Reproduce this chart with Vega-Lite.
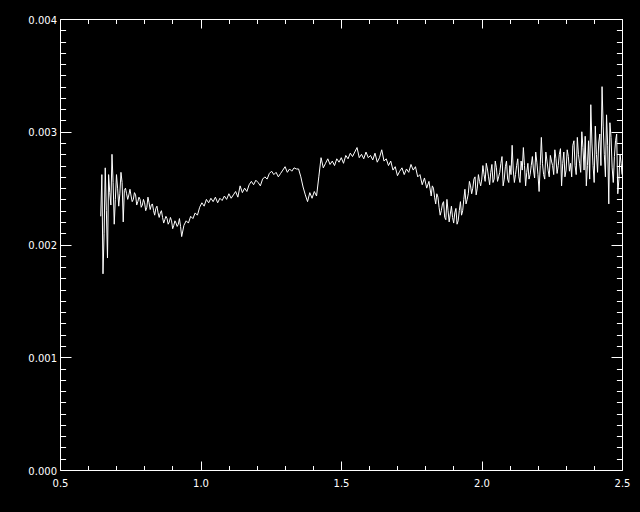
{
"$schema": "https://vega.github.io/schema/vega-lite/v6.json",
"width": 562, "height": 451,
"autosize": {"type": "none"},
"padding": {"left": 60, "top": 19, "right": 18, "bottom": 42},
"background": "black",
"config": {
  "view": {"stroke": null},
  "axis": {"grid": false, "title": null, "domainColor": "white", "tickColor": "white", "labelColor": "white", "labelFont": "DejaVu Sans", "labelFontSize": 10, "labelOverlap": false, "labelFlush": false, "domainWidth": 1, "tickWidth": 1}
},
"data": {"values": [
{"x":0.645,"y":0.00225},{"x":0.653,"y":0.00174},{"x":0.661,"y":0.00268},{"x":0.669,"y":0.00188},{"x":0.677,"y":0.00246},{"x":0.685,"y":0.00280},{"x":0.693,"y":0.00218},{"x":0.701,"y":0.00262},{"x":0.709,"y":0.00234},{"x":0.717,"y":0.00264},{"x":0.725,"y":0.00220},{"x":0.733,"y":0.00250},{"x":0.741,"y":0.00240},{"x":0.749,"y":0.00249},{"x":0.757,"y":0.00238},{"x":0.765,"y":0.00246},{"x":0.773,"y":0.00235},{"x":0.781,"y":0.00242},{"x":0.789,"y":0.00233},{"x":0.797,"y":0.00240},{"x":0.805,"y":0.00230},{"x":0.813,"y":0.00242},{"x":0.821,"y":0.00231},{"x":0.829,"y":0.00236},{"x":0.837,"y":0.00226},{"x":0.845,"y":0.00234},{"x":0.853,"y":0.00224},{"x":0.861,"y":0.00230},{"x":0.869,"y":0.00219},{"x":0.877,"y":0.00225},{"x":0.885,"y":0.00218},{"x":0.893,"y":0.00224},{"x":0.901,"y":0.00214},{"x":0.909,"y":0.00221},{"x":0.917,"y":0.00216},{"x":0.925,"y":0.00223},{"x":0.933,"y":0.00207},{"x":0.941,"y":0.00217},{"x":0.949,"y":0.00221},{"x":0.957,"y":0.00219},{"x":0.965,"y":0.00225},{"x":0.973,"y":0.00223},{"x":0.981,"y":0.00228},{"x":0.989,"y":0.00226},{"x":0.997,"y":0.00233},
{"x":1.005,"y":0.00237},{"x":1.013,"y":0.00234},{"x":1.021,"y":0.00240},{"x":1.029,"y":0.00237},{"x":1.037,"y":0.00241},{"x":1.045,"y":0.00238},{"x":1.053,"y":0.00242},{"x":1.061,"y":0.00237},{"x":1.069,"y":0.00241},{"x":1.077,"y":0.00239},{"x":1.085,"y":0.00243},{"x":1.093,"y":0.00240},{"x":1.101,"y":0.00245},{"x":1.109,"y":0.00241},{"x":1.117,"y":0.00244},{"x":1.125,"y":0.00247},{"x":1.133,"y":0.00242},{"x":1.141,"y":0.00252},{"x":1.149,"y":0.00246},{"x":1.157,"y":0.00250},{"x":1.165,"y":0.00247},{"x":1.173,"y":0.00253},{"x":1.181,"y":0.00256},{"x":1.189,"y":0.00253},{"x":1.197,"y":0.00257},{"x":1.205,"y":0.00255},{"x":1.213,"y":0.00252},{"x":1.221,"y":0.00258},{"x":1.229,"y":0.00260},{"x":1.237,"y":0.00258},{"x":1.245,"y":0.00263},{"x":1.253,"y":0.00265},{"x":1.261,"y":0.00262},{"x":1.269,"y":0.00264},{"x":1.277,"y":0.00260},{"x":1.285,"y":0.00263},{"x":1.293,"y":0.00266},{"x":1.301,"y":0.00269},{"x":1.309,"y":0.00264},{"x":1.317,"y":0.00267},{"x":1.325,"y":0.00265},{"x":1.333,"y":0.00268},{"x":1.341,"y":0.00267},{"x":1.349,"y":0.00267},{"x":1.357,"y":0.00260},{"x":1.365,"y":0.00251},{"x":1.373,"y":0.00244},{"x":1.381,"y":0.00238},{"x":1.389,"y":0.00246},{"x":1.397,"y":0.00241},{"x":1.405,"y":0.00247},{"x":1.413,"y":0.00243},{"x":1.421,"y":0.00260},{"x":1.429,"y":0.00277},{"x":1.437,"y":0.00268},{"x":1.445,"y":0.00272},{"x":1.453,"y":0.00276},{"x":1.461,"y":0.00271},{"x":1.469,"y":0.00274},{"x":1.477,"y":0.00270},{"x":1.485,"y":0.00276},{"x":1.493,"y":0.00273},
{"x":1.501,"y":0.00277},{"x":1.509,"y":0.00272},{"x":1.517,"y":0.00279},{"x":1.525,"y":0.00276},{"x":1.533,"y":0.00281},{"x":1.541,"y":0.00278},{"x":1.549,"y":0.00282},{"x":1.557,"y":0.00286},{"x":1.565,"y":0.00277},{"x":1.573,"y":0.00280},{"x":1.581,"y":0.00276},{"x":1.589,"y":0.00282},{"x":1.597,"y":0.00277},{"x":1.605,"y":0.00279},{"x":1.613,"y":0.00275},{"x":1.621,"y":0.00281},{"x":1.629,"y":0.00273},{"x":1.637,"y":0.00277},{"x":1.645,"y":0.00284},{"x":1.653,"y":0.00274},{"x":1.661,"y":0.00276},{"x":1.669,"y":0.00270},{"x":1.677,"y":0.00274},{"x":1.685,"y":0.00266},{"x":1.693,"y":0.00269},{"x":1.701,"y":0.00261},{"x":1.709,"y":0.00265},{"x":1.717,"y":0.00268},{"x":1.725,"y":0.00262},{"x":1.733,"y":0.00267},{"x":1.741,"y":0.00264},{"x":1.749,"y":0.00271},{"x":1.757,"y":0.00266},{"x":1.765,"y":0.00269},{"x":1.773,"y":0.00260},{"x":1.781,"y":0.00262},{"x":1.789,"y":0.00253},{"x":1.797,"y":0.00259},{"x":1.805,"y":0.00250},{"x":1.813,"y":0.00256},{"x":1.821,"y":0.00243},{"x":1.829,"y":0.00250},{"x":1.837,"y":0.00236},{"x":1.845,"y":0.00242},{"x":1.853,"y":0.00226},{"x":1.861,"y":0.00236},{"x":1.869,"y":0.00224},{"x":1.877,"y":0.00240},{"x":1.885,"y":0.00220},{"x":1.893,"y":0.00234},{"x":1.901,"y":0.00219},{"x":1.909,"y":0.00232},{"x":1.917,"y":0.00221},{"x":1.925,"y":0.00238},{"x":1.933,"y":0.00230},{"x":1.941,"y":0.00249},{"x":1.949,"y":0.00240},{"x":1.957,"y":0.00256},{"x":1.965,"y":0.00245},{"x":1.973,"y":0.00258},{"x":1.981,"y":0.00244},{"x":1.989,"y":0.00262},{"x":1.997,"y":0.00252},
{"x":2.005,"y":0.00270},{"x":2.013,"y":0.00256},{"x":2.021,"y":0.00267},{"x":2.029,"y":0.00253},{"x":2.037,"y":0.00271},{"x":2.045,"y":0.00258},{"x":2.053,"y":0.00268},{"x":2.061,"y":0.00260},{"x":2.069,"y":0.00272},{"x":2.077,"y":0.00252},{"x":2.085,"y":0.00269},{"x":2.093,"y":0.00258},{"x":2.101,"y":0.00270},{"x":2.109,"y":0.00288},{"x":2.117,"y":0.00255},{"x":2.125,"y":0.00270},{"x":2.133,"y":0.00260},{"x":2.141,"y":0.00274},{"x":2.149,"y":0.00286},{"x":2.157,"y":0.00252},{"x":2.165,"y":0.00272},{"x":2.173,"y":0.00262},{"x":2.181,"y":0.00278},{"x":2.189,"y":0.00259},{"x":2.197,"y":0.00273},{"x":2.205,"y":0.00247},{"x":2.213,"y":0.00295},{"x":2.221,"y":0.00262},{"x":2.229,"y":0.00282},{"x":2.237,"y":0.00266},{"x":2.245,"y":0.00279},{"x":2.253,"y":0.00270},{"x":2.261,"y":0.00284},{"x":2.269,"y":0.00263},{"x":2.277,"y":0.00280},{"x":2.285,"y":0.00252},{"x":2.293,"y":0.00282},{"x":2.301,"y":0.00266},{"x":2.309,"y":0.00278},{"x":2.317,"y":0.00272},{"x":2.325,"y":0.00288},{"x":2.333,"y":0.00270},{"x":2.341,"y":0.00295},{"x":2.349,"y":0.00272},{"x":2.357,"y":0.00300},{"x":2.365,"y":0.00266},{"x":2.373,"y":0.00252},{"x":2.381,"y":0.00292},{"x":2.389,"y":0.00324},{"x":2.397,"y":0.00270},{"x":2.405,"y":0.00305},{"x":2.413,"y":0.00264},{"x":2.421,"y":0.00298},{"x":2.429,"y":0.00340},{"x":2.437,"y":0.00280},{"x":2.445,"y":0.00315},{"x":2.453,"y":0.00236},{"x":2.461,"y":0.00295},{"x":2.469,"y":0.00255},{"x":2.477,"y":0.00292},{"x":2.485,"y":0.00245},{"x":2.493,"y":0.00280},{"x":2.500,"y":0.00262},
{"x":0.649,"y":0.00262},{"x":0.657,"y":0.00210},{"x":0.665,"y":0.00230},{"x":0.673,"y":0.00262},{"x":0.681,"y":0.00235},{"x":0.689,"y":0.00255},{"x":0.697,"y":0.00240},{"x":0.705,"y":0.00250},{"x":0.713,"y":0.00245},{"x":0.721,"y":0.00255},{"x":0.729,"y":0.00248},
{"x":0.737,"y":0.00245},{"x":0.745,"y":0.00244},{"x":0.753,"y":0.00243},{"x":0.761,"y":0.00240},{"x":0.769,"y":0.00244},{"x":0.777,"y":0.00238},{"x":0.785,"y":0.00240},{"x":0.793,"y":0.00235},{"x":0.801,"y":0.00237},{"x":0.809,"y":0.00233},{"x":0.817,"y":0.00237},{"x":0.825,"y":0.00235},{"x":0.833,"y":0.00230},{"x":0.841,"y":0.00232},{"x":0.849,"y":0.00228},{"x":0.857,"y":0.00228},{"x":0.865,"y":0.00224},{"x":0.873,"y":0.00222},{"x":0.881,"y":0.00223},{"x":0.889,"y":0.00220},{"x":0.897,"y":0.00221},{"x":0.905,"y":0.00217},{"x":0.913,"y":0.00219},{"x":0.921,"y":0.00218},{"x":0.929,"y":0.00216},
{"x":1.825,"y":0.00252},{"x":1.833,"y":0.00242},{"x":1.841,"y":0.00245},{"x":1.849,"y":0.00233},{"x":1.857,"y":0.00230},{"x":1.865,"y":0.00238},{"x":1.873,"y":0.00222},{"x":1.881,"y":0.00230},{"x":1.889,"y":0.00227},{"x":1.897,"y":0.00224},{"x":1.905,"y":0.00228},{"x":1.913,"y":0.00218},{"x":1.921,"y":0.00230},{"x":1.929,"y":0.00226},{"x":1.937,"y":0.00240},{"x":1.945,"y":0.00236},{"x":1.953,"y":0.00245},{"x":1.961,"y":0.00252},{"x":1.969,"y":0.00250},{"x":1.977,"y":0.00260},{"x":1.985,"y":0.00250},{"x":1.993,"y":0.00256},
{"x":2.001,"y":0.00258},{"x":2.009,"y":0.00262},{"x":2.017,"y":0.00272},{"x":2.025,"y":0.00260},{"x":2.033,"y":0.00264},{"x":2.041,"y":0.00255},{"x":2.049,"y":0.00274},{"x":2.057,"y":0.00256},{"x":2.065,"y":0.00264},{"x":2.073,"y":0.00278},{"x":2.081,"y":0.00258},{"x":2.089,"y":0.00274},{"x":2.097,"y":0.00255},{"x":2.105,"y":0.00262},{"x":2.113,"y":0.00266},{"x":2.121,"y":0.00262},{"x":2.129,"y":0.00276},{"x":2.137,"y":0.00255},{"x":2.145,"y":0.00266},{"x":2.153,"y":0.00270},{"x":2.161,"y":0.00264},{"x":2.169,"y":0.00258},{"x":2.177,"y":0.00270},{"x":2.185,"y":0.00266},{"x":2.193,"y":0.00282},{"x":2.201,"y":0.00262},{"x":2.209,"y":0.00270},{"x":2.217,"y":0.00272},{"x":2.225,"y":0.00258},{"x":2.233,"y":0.00274},{"x":2.241,"y":0.00260},{"x":2.249,"y":0.00274},{"x":2.257,"y":0.00262},{"x":2.265,"y":0.00276},{"x":2.273,"y":0.00270},{"x":2.281,"y":0.00285},{"x":2.289,"y":0.00272},{"x":2.297,"y":0.00260},{"x":2.305,"y":0.00284},{"x":2.313,"y":0.00265},{"x":2.321,"y":0.00260},{"x":2.329,"y":0.00292},{"x":2.337,"y":0.00262},{"x":2.345,"y":0.00280},{"x":2.353,"y":0.00264},{"x":2.361,"y":0.00286},{"x":2.369,"y":0.00296},{"x":2.377,"y":0.00270},{"x":2.385,"y":0.00258},{"x":2.393,"y":0.00290},{"x":2.401,"y":0.00255},{"x":2.409,"y":0.00280},{"x":2.417,"y":0.00290},{"x":2.425,"y":0.00270},{"x":2.433,"y":0.00305},{"x":2.441,"y":0.00260},{"x":2.449,"y":0.00288},{"x":2.457,"y":0.00308},{"x":2.465,"y":0.00268},{"x":2.473,"y":0.00278},{"x":2.481,"y":0.00298},{"x":2.489,"y":0.00258},{"x":2.497,"y":0.00272}
]},
"layer": [
  {
    "mark": {"type": "line", "color": "white", "strokeWidth": 1, "clip": true},
    "encoding": {
      "x": {"field": "x", "type": "quantitative", "scale": {"domain": [0.5, 2.5], "nice": false, "zero": false},
        "axis": {"orient": "bottom", "values": [0.5,0.6,0.7,0.8,0.9,1.0,1.1,1.2,1.3,1.4,1.5,1.6,1.7,1.8,1.9,2.0,2.1,2.2,2.3,2.4,2.5],
          "tickSize": {"condition": {"test": "abs(datum.value*2 - round(datum.value*2)) < 0.001", "value": -9}, "value": -4.5},
          "labelExpr": "abs(datum.value*2 - round(datum.value*2)) < 0.001 ? format(datum.value, '.1f') : ''",
          "labelPadding": 17}},
      "y": {"field": "y", "type": "quantitative", "scale": {"domain": [0, 0.004], "nice": false, "zero": false},
        "axis": {"orient": "left", "values": [0,0.0001,0.0002,0.0003,0.0004,0.0005,0.0006,0.0007,0.0008,0.0009,0.001,0.0011,0.0012,0.0013,0.0014,0.0015,0.0016,0.0017,0.0018,0.0019,0.002,0.0021,0.0022,0.0023,0.0024,0.0025,0.0026,0.0027,0.0028,0.0029,0.003,0.0031,0.0032,0.0033,0.0034,0.0035,0.0036,0.0037,0.0038,0.0039,0.004],
          "tickSize": {"condition": {"test": "abs(datum.value*1000 - round(datum.value*1000)) < 0.001", "value": -11}, "value": -5.6},
          "labelExpr": "abs(datum.value*1000 - round(datum.value*1000)) < 0.001 ? format(datum.value, '.3f') : ''",
          "labelPadding": 14.5, "labelOffset": 1}}
    }
  },
  {
    "mark": {"type": "line", "opacity": 0},
    "encoding": {
      "x": {"field": "x", "type": "quantitative", "scale": {"domain": [0.5, 2.5], "nice": false, "zero": false},
        "axis": {"orient": "top", "labels": false, "values": [0.5,0.6,0.7,0.8,0.9,1.0,1.1,1.2,1.3,1.4,1.5,1.6,1.7,1.8,1.9,2.0,2.1,2.2,2.3,2.4,2.5],
          "tickSize": {"condition": {"test": "abs(datum.value*2 - round(datum.value*2)) < 0.001", "value": -9}, "value": -4.5}}},
      "y": {"field": "y", "type": "quantitative", "scale": {"domain": [0, 0.004], "nice": false, "zero": false},
        "axis": {"orient": "right", "labels": false, "values": [0,0.0001,0.0002,0.0003,0.0004,0.0005,0.0006,0.0007,0.0008,0.0009,0.001,0.0011,0.0012,0.0013,0.0014,0.0015,0.0016,0.0017,0.0018,0.0019,0.002,0.0021,0.0022,0.0023,0.0024,0.0025,0.0026,0.0027,0.0028,0.0029,0.003,0.0031,0.0032,0.0033,0.0034,0.0035,0.0036,0.0037,0.0038,0.0039,0.004],
          "tickSize": {"condition": {"test": "abs(datum.value*1000 - round(datum.value*1000)) < 0.001", "value": -11}, "value": -5.6}}}
    }
  }
],
"resolve": {"axis": {"x": "independent", "y": "independent"}}
}
